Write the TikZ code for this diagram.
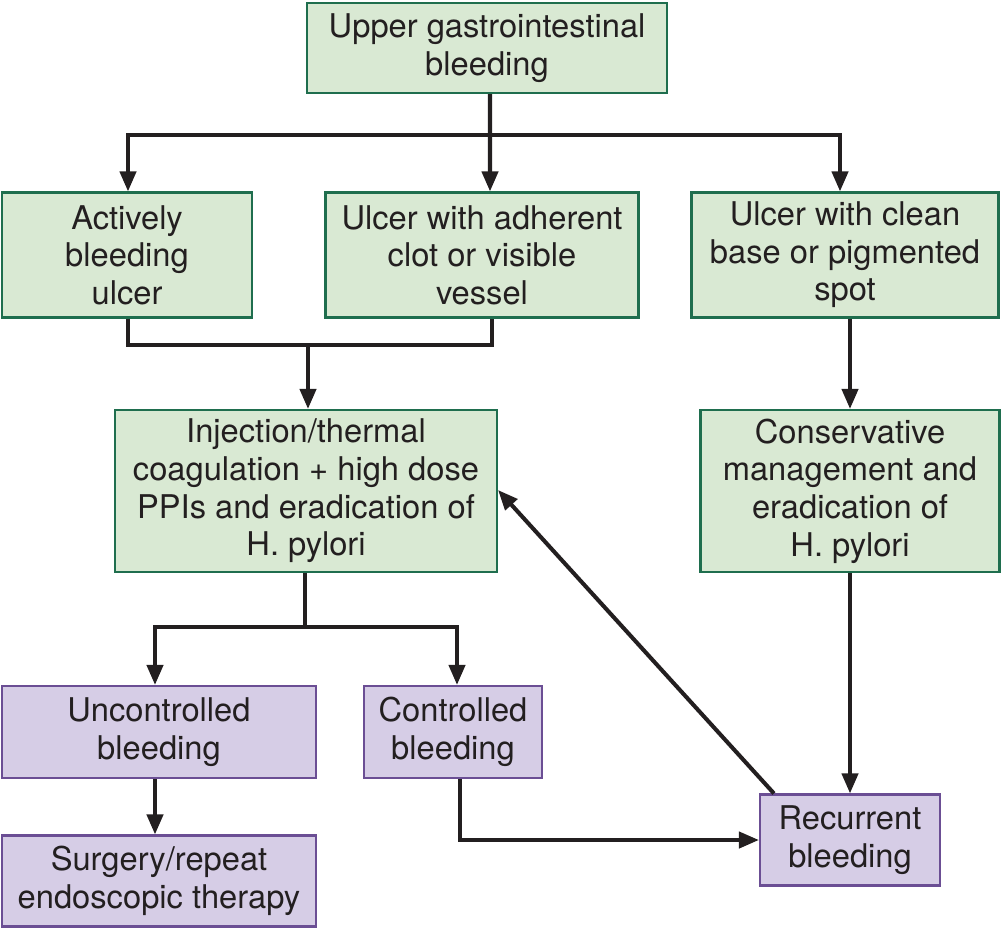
\documentclass[tikz,border=0pt]{standalone}
\usepackage{fontspec}
\setmainfont{TeX Gyre Heros}
\usetikzlibrary{arrows.meta,positioning}

\definecolor{boxgreen}{HTML}{D9E9D3}
\definecolor{linegreen}{HTML}{1F6E4E}
\definecolor{boxpurple}{HTML}{D6CDE6}
\definecolor{linepurple}{HTML}{6B4E94}
\definecolor{arrowgray}{HTML}{231F20}

\begin{document}
\begin{tikzpicture}[x=0.02cm, y=-0.02cm,
    greenbox/.style={draw=linegreen, fill=boxgreen, line width=1.2pt, align=center,
        font=\fontsize{18.6}{21.4}\selectfont, inner sep=2pt, text=arrowgray},
    purplebox/.style={draw=linepurple, fill=boxpurple, line width=1.2pt, align=center,
        font=\fontsize{18.6}{21.4}\selectfont, inner sep=2pt, text=arrowgray},
    arr/.style={draw=arrowgray, line width=2.3pt, -{Triangle[length=0.4cm, width=0.32cm]}},
    ln/.style={draw=arrowgray, line width=2.3pt}]
    \useasboundingbox (0,0) rectangle (1003,930);

    % Green boxes
    \node[greenbox, minimum width=7.2cm, minimum height=1.8cm] (top) at (487,48) {Upper gastrointestinal\\bleeding};
    \node[greenbox, minimum width=5.0cm, minimum height=2.5cm] (act) at (127,255) {Actively\\bleeding\\ulcer};
    \node[greenbox, minimum width=6.26cm, minimum height=2.5cm] (adh) at (482,255) {Ulcer with adherent\\clot or visible\\vessel};
    \node[greenbox, minimum width=6.14cm, minimum height=2.5cm] (clean) at (845,255) {Ulcer with clean\\base or pigmented\\spot};
    \node[greenbox, minimum width=7.64cm, minimum height=3.24cm] (inj) at (306,491) {Injection/thermal\\coagulation + high dose\\PPIs and eradication of\\H. pylori};
    \node[greenbox, minimum width=5.98cm, minimum height=3.24cm] (cons) at (850,491) {Conservative\\management and\\eradication of\\H. pylori};

    % Purple boxes
    \node[purplebox, minimum width=6.28cm, minimum height=1.84cm] (unc) at (159,732) {Uncontrolled\\bleeding};
    \node[purplebox, minimum width=3.56cm, minimum height=1.84cm] (con) at (453,732) {Controlled\\bleeding};
    \node[purplebox, minimum width=6.28cm, minimum height=1.82cm] (surg) at (159,881) {Surgery/repeat\\endoscopic therapy};
    \node[purplebox, minimum width=3.6cm, minimum height=1.82cm] (rec) at (850,840) {Recurrent\\bleeding};

    % Connectors
    \coordinate (split) at (490,135);
    \draw[ln] ([xshift=0.06cm]top.south) -- (split);
    \draw[arr] (split) -| ([xshift=0.02cm]act.north);
    \draw[arr] (split) -- ([xshift=0.16cm]adh.north);
    \draw[arr] (split) -| ([xshift=-0.1cm]clean.north);

    \coordinate (merge) at (308,345);
    \draw[ln] ([xshift=0.02cm]act.south) |- (merge) -| ([xshift=0.2cm]adh.south);
    \draw[arr] (merge) -- (merge |- inj.north);

    \draw[arr] (cons.north |- clean.south) -- (cons.north);

    \coordinate (fork) at (305,627);
    \draw[ln] (inj.south -| fork) -- (fork);
    \draw[arr] (fork) -| ([xshift=-0.08cm]unc.north);
    \draw[arr] (fork) -| ([xshift=0.08cm]con.north);

    \draw[arr] ([xshift=-0.08cm]unc.south) -- ([xshift=-0.08cm]surg.north);
    \draw[arr] ([xshift=0.14cm]con.south) |- (rec.west);
    \draw[arr] (cons.south) -- (rec.north);
    \draw[arr] ([xshift=0.3cm]rec.north west) -- ([yshift=0.02cm]inj.east);
\end{tikzpicture}
\end{document}
